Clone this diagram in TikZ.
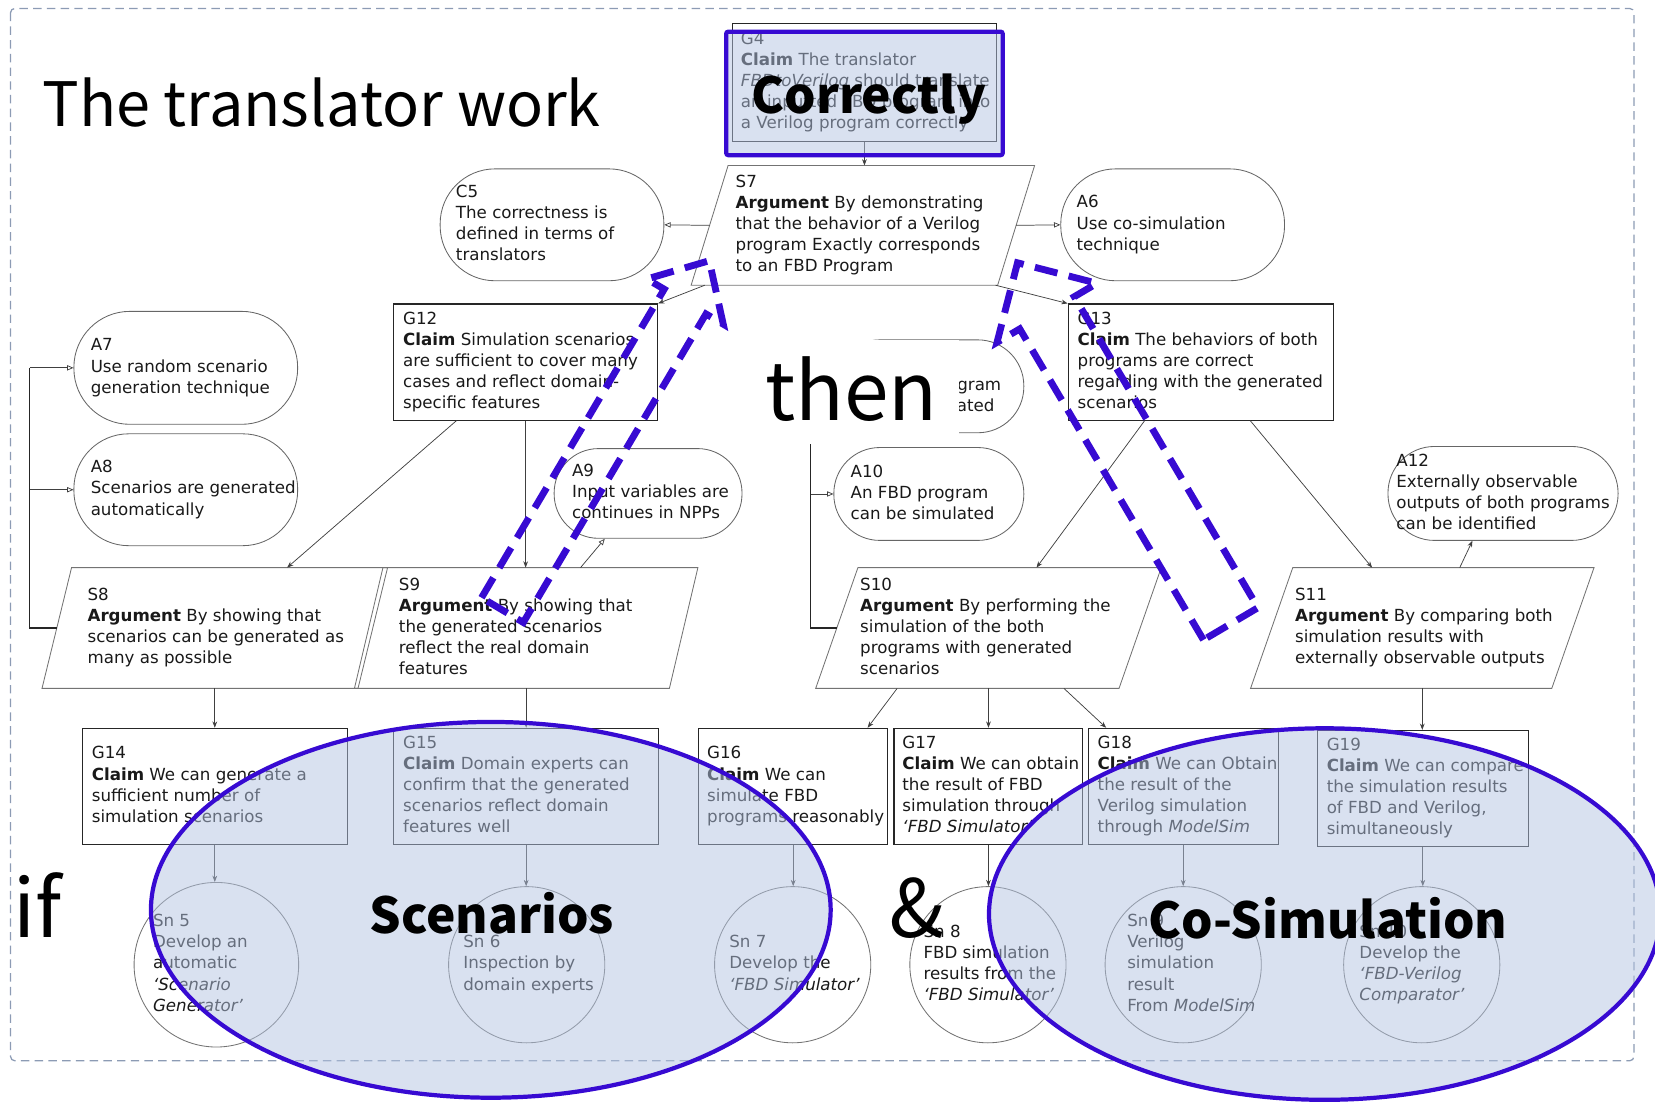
\documentclass[tikz,border=0pt]{standalone}
\usepackage{fontspec}
\setmainfont{DejaVu Sans}
\newfontfamily\bigfont{Noto Sans CJK KR}
\usetikzlibrary{calc,arrows.meta,shapes.geometric}
\newcommand{\bodyf}{\fontsize{15.8}{20}\selectfont}
\newcommand{\gtx}[2]{\makebox[#1pt][l]{\begin{tabular}{@{}l@{}}#2\end{tabular}}}
\definecolor{hlblue}{RGB}{55,10,210}
\definecolor{hlfill}{RGB}{179,195,225}
\definecolor{bordc}{RGB}{140,155,180}
\definecolor{txt}{RGB}{25,25,25}
\begin{document}
\begin{tikzpicture}[x=1pt,y=-1pt,
  gbox/.style={draw=black!85,line width=1pt,rectangle,inner sep=0pt,font=\bodyf,text=txt},
  sbox/.style={rectangle,inner sep=0pt,font=\bodyf,text=txt},
  spath/.style={draw=black!55,line width=0.8pt},
  abox/.style={draw=black!60,line width=0.8pt,rectangle,inner sep=0pt,font=\bodyf,text=txt},
  snc/.style={draw=black!55,line width=0.8pt,circle,minimum size=148pt,inner sep=0pt,font=\bodyf,text=txt},
  link/.style={draw=black!75,line width=0.7pt,-{Stealth[length=6pt,width=4.5pt]}},
  ctx/.style={draw=black!75,line width=0.7pt,-{Triangle[open,length=6pt,width=5pt]}},
  bus/.style={draw=black!85,line width=1pt},
  hl/.style={draw=hlblue,line width=4pt,fill=hlfill,fill opacity=0.5},
  darr/.style={draw=hlblue,line width=6.5pt,dash pattern=on 22pt off 11pt,line join=miter},
  bord/.style={draw=bordc,line width=1.2pt,dash pattern=on 8pt off 5pt,rounded corners=4pt},
  bigt/.style={inner sep=0pt,font=\bigfont\fontsize{58}{66}\selectfont},
  bigb/.style={inner sep=0pt,font=\bigfont\bfseries\fontsize{47}{54}\selectfont}]
\useasboundingbox (0,0) rectangle (1568,1044);
\draw[bord] (10,8) rectangle (1548,1005);

% ---- top level
\node[gbox,minimum width=250pt,minimum height=112pt] (G4) at (819,78)
  {\gtx{234}{G4\\\textbf{Claim} The translator\\\textit{FBDtoVerilog} should translate\\an inputted FBD program into\\a Verilog program correctly}};
\node[sbox,minimum width=325pt,minimum height=113pt] (S7) at (817.5,213.5)
  {\gtx{241}{S7\\\textbf{Argument} By demonstrating\\that the behavior of a Verilog\\program Exactly corresponds\\to an FBD Program}};
\draw[spath] ($(S7.north west)+(35,0)$) -- (S7.north east) -- ($(S7.south east)+(-35,0)$) -- (S7.south west) -- cycle;
\node[abox,rounded corners=52pt,minimum width=212pt,minimum height=106pt] (C5) at (523,213)
  {\gtx{182}{C5\\The correctness is\\defined in terms of\\translators}};
\node[abox,rounded corners=52pt,minimum width=212pt,minimum height=106pt] (A6) at (1111,213)
  {\gtx{182}{A6\\Use co-simulation\\technique}};

% ---- second level
\node[gbox,minimum width=250pt,minimum height=110pt] (G12) at (498,343)
  {\gtx{232}{G12\\\textbf{Claim} Simulation scenarios\\are sufficient to cover many\\cases and reflect domain-\\specific features}};
\node[gbox,minimum width=251pt,minimum height=110pt] (G13) at (1137.5,343)
  {\gtx{233}{G13\\\textbf{Claim} The behaviors of both\\programs are correct\\regarding with the generated\\scenarios}};
\node[abox,rounded corners=53pt,minimum width=212pt,minimum height=107pt] (A7) at (176,348.5)
  {\gtx{180}{A7\\Use random scenario\\generation technique}};
\node[abox,rounded corners=52pt,minimum width=212pt,minimum height=106pt] (A8) at (176,464)
  {\gtx{180}{A8\\Scenarios are generated\\automatically}};
\node[abox,rounded corners=42pt,minimum width=178pt,minimum height=85pt] (A9) at (614,467.5)
  {\gtx{144}{A9\\Input variables are\\continues in NPPs}};
\node[abox,rounded corners=43.5pt,minimum width=180pt,minimum height=88pt] (A11) at (880,366)
  {\gtx{148}{A11\\A Verilog program\\can be simulated}};
\node[abox,rounded corners=43.5pt,minimum width=180pt,minimum height=88pt] (A10) at (880,468)
  {\gtx{148}{A10\\An FBD program\\can be simulated}};
\node[abox,rounded corners=44pt,minimum width=218pt,minimum height=89pt] (A12) at (1424,467.5)
  {\gtx{202}{A12\\Externally observable\\outputs of both programs\\can be identified}};

% ---- strategies
\node[sbox,minimum width=327pt,minimum height=114pt] (S8) at (203.5,595)
  {\gtx{241}{S8\\\textbf{Argument} By showing that\\scenarios can be generated as\\many as possible}};
\draw[spath] ($(S8.north west)+(28,0)$) -- (S8.north east) -- ($(S8.south east)+(-28,0)$) -- (S8.south west) -- cycle;
\node[sbox,minimum width=325pt,minimum height=114pt] (S9) at (498.5,595)
  {\gtx{241}{S9\\\textbf{Argument} By showing that\\the generated scenarios\\reflect the real domain\\features}};
\draw[spath] ($(S9.north west)+(27,0)$) -- (S9.north east) -- ($(S9.south east)+(-27,0)$) -- (S9.south west) -- cycle;
\node[sbox,minimum width=327pt,minimum height=114pt] (S10) at (936.5,595)
  {\gtx{243}{S10\\\textbf{Argument} By performing the\\simulation of the both\\programs with generated\\scenarios}};
\draw[spath] ($(S10.north west)+(40,0)$) -- (S10.north east) -- ($(S10.south east)+(-40,0)$) -- (S10.south west) -- cycle;
\node[sbox,minimum width=325pt,minimum height=114pt] (S11) at (1347.5,595)
  {\gtx{241}{S11\\\textbf{Argument} By comparing both\\simulation results with\\externally observable outputs}};
\draw[spath] ($(S11.north west)+(40,0)$) -- (S11.north east) -- ($(S11.south east)+(-40,0)$) -- (S11.south west) -- cycle;

% ---- bottom goals
\node[gbox,minimum width=251pt,minimum height=110pt] (G14) at (203.5,745)
  {\gtx{233}{G14\\\textbf{Claim} We can generate a\\sufficient number of\\simulation scenarios}};
\node[gbox,minimum width=251pt,minimum height=110pt] (G15) at (498.5,745)
  {\gtx{233}{G15\\\textbf{Claim} Domain experts can\\confirm that the generated\\scenarios reflect domain\\features well}};
\node[gbox,minimum width=179pt,minimum height=110pt] (G16) at (751.5,745)
  {\gtx{163}{G16\\\textbf{Claim} We can\\simulate FBD\\programs reasonably}};
\node[gbox,minimum width=179pt,minimum height=110pt] (G17) at (936.5,745)
  {\gtx{163}{G17\\\textbf{Claim} We can obtain\\the result of FBD\\simulation through\\\textit{`FBD Simulator'}}};
\node[gbox,minimum width=180pt,minimum height=110pt] (G18) at (1121,745)
  {\gtx{162}{G18\\\textbf{Claim} We can Obtain\\the result of the\\Verilog simulation\\through \textit{ModelSim}}};
\node[gbox,minimum width=200pt,minimum height=110pt] (G19) at (1348,747)
  {\gtx{182}{G19\\\textbf{Claim} We can compare\\the simulation results\\of FBD and Verilog,\\simultaneously}};

% ---- solutions
\node[snc] (Sn5) at (205,914) {\gtx{120}{Sn 5\\Develop an\\automatic\\\textit{`Scenario}\\\textit{Generator'}}};
\node[snc] (Sn6) at (499,914) {\gtx{120}{Sn 6\\Inspection by\\domain experts}};
\node[snc] (Sn7) at (751,914) {\gtx{120}{Sn 7\\Develop the\\\textit{`FBD Simulator'}}};
\node[snc] (Sn8) at (936,914) {\gtx{122}{Sn 8\\FBD simulation\\results from the\\\textit{`FBD Simulator'}}};
\node[snc] (Sn9) at (1121,914) {\gtx{106}{Sn 9\\Verilog\\simulation\\result\\From \textit{ModelSim}}};
\node[snc] (Sn10) at (1347,914) {\gtx{118}{Sn 10\\Develop the\\\textit{`FBD-Verilog}\\\textit{Comparator'}}};

% ---- connectors
\draw[link] (G4.south) -- (G4.south |- S7.north);
\draw[ctx] ($(S7.west)+(17.5,0)$) -- (C5.east);
\draw[ctx] ($(S7.east)+(-17.5,0)$) -- (A6.west);
\draw[link] ($(S7.south west)+(13,0)$) -- (G12.north east);
\draw[link] ($(S7.south east)+(-37,0)$) -- (G13.north west);
\draw[link] ($(G12.south west)+(60,0)$) -- ($(S8.north)+(68.5,0)$);
\draw[link] (G12.south) -- (G12.south |- S9.north);
\draw[ctx] ($(S9.north)+(51.5,0)$) -- ($(A9.south)+(-41,0)$);
\draw[link] ($(G13.south west)+(73,0)$) -- ($(S10.north)+(45.5,0)$);
\draw[link] ($(G13.south west)+(173,0)$) -- ($(S11.north)+(-47.5,0)$);
\draw[link] ($(S11.north)+(35.5,0)$) -- ($(A12.south)+(-29,0)$);
\draw[link] (S8.south) -- (S8.south |- G14.north);
\draw[link] (S9.south) -- (S9.south |- G15.north);
\draw[link] ($(S10.south)+(-86.5,0)$) -- ($(G16.north)+(70.5,0)$);
\draw[link] (S10.south) -- (S10.south |- G17.north);
\draw[link] ($(S10.south)+(71.5,0)$) -- ($(G18.north)+(-73,0)$);
\draw[link] (S11.south) -- (S11.south |- G19.north);
\draw[link] (G14.south) -- (G14.south |- Sn5.north);
\draw[link] (G15.south) -- (G15.south |- Sn6.north);
\draw[link] (G16.south) -- (G16.south |- Sn7.north);
\draw[link] (G17.south) -- (G17.south |- Sn8.north);
\draw[link] (G18.south) -- (G18.south |- Sn9.north);
\draw[link] (G19.south) -- (G19.south |- Sn10.north);
% context buses
\coordinate (busL) at (28,0);
\coordinate (busR) at (768,0);
\draw[bus] ($(S8.west)+(14,0)$) -- (busL |- S8.west) -- (busL |- A7.west);
\draw[ctx] (busL |- A7.west) -- (A7.west);
\draw[ctx] (busL |- A8.west) -- (A8.west);
\draw[bus] ($(S10.west)+(20,0)$) -- (busR |- S10.west) -- (busR |- A11.west);
\draw[ctx] (busR |- A11.west) -- (A11.west);
\draw[ctx] (busR |- A10.west) -- (A10.west);

% ---- overlay texts
\node[bigt,anchor=base west] (title) at (40,120) {The translator work};
\node[fill=white,inner sep=0pt,minimum width=196pt,minimum height=99pt] (thenbg) at (811,371.5) {};
\node[inner sep=0pt,anchor=base west,font=\bigfont\fontsize{76}{80}\selectfont] (then) at (725,398) {then};

% ---- highlights
\draw[hl,rounded corners=2pt] (688,30) rectangle (950,147);
\draw[hl] (465,862) ellipse [x radius=322, y radius=178];
\draw[hl] (1255,866) ellipse [x radius=318, y radius=176];

\node[bigb,anchor=base west] (corr) at (712,108) {Correctly};
\node[bigb,anchor=base west] (scen) at (350,884) {Scenarios};
\node[bigb,anchor=base west] (cosim) at (1088,889) {Co-Simulation};
\node[inner sep=0pt,anchor=base west,font=\bigfont\fontsize{76}{80}\selectfont] (iftxt) at (13,888) {if};
\node[inner sep=0pt,anchor=base west,font=\bigfont\fontsize{76}{80}\selectfont] (amp) at (843,888) {\&};

% ---- dashed block arrows
\coordinate (LB) at (476,578); \coordinate (LT) at (672,247);
\coordinate (LH) at ($(LT)!45pt!(LB)$);
\draw[darr] ($(LB)!23pt!90:(LT)$) -- ($(LH)!23pt!90:(LT)$) -- ($(LH)!42pt!90:(LT)$) -- (LT)
  -- ($(LH)!42pt!-90:(LT)$) -- ($(LH)!23pt!-90:(LT)$) -- ($(LB)!23pt!-90:(LT)$) -- cycle;
\coordinate (RB) at (1166,591); \coordinate (RT) at (964,249);
\coordinate (RH) at ($(RT)!55pt!(RB)$);
\draw[darr] ($(RB)!30pt!90:(RT)$) -- ($(RH)!30pt!90:(RT)$) -- ($(RH)!55pt!90:(RT)$) -- (RT)
  -- ($(RH)!55pt!-90:(RT)$) -- ($(RH)!30pt!-90:(RT)$) -- ($(RB)!30pt!-90:(RT)$) -- cycle;
\end{tikzpicture}
\end{document}
